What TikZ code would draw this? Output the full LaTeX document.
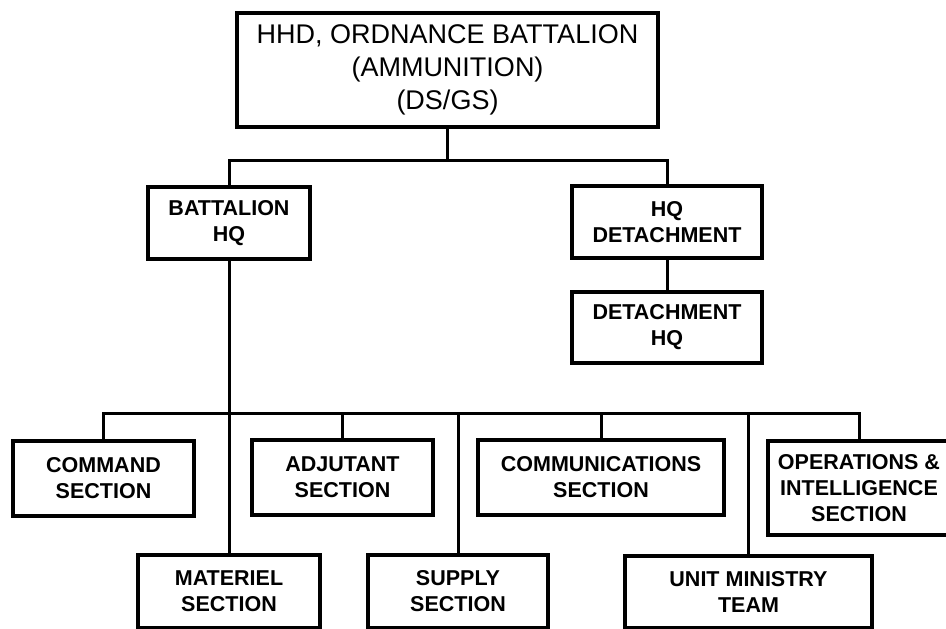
\documentclass[tikz,border=0pt]{standalone}
\usepackage{fontspec}
\setmainfont{Liberation Sans}
\usetikzlibrary{positioning,fit,calc}

\begin{document}
\begin{tikzpicture}[x=1pt,y=-1pt,line/.style = {line width=3pt}]
					\tikzset{unit/.style={draw=black, line width=3.5pt, inner sep=0pt, align=center, font=\bfseries\fontsize{21.5}{26}\selectfont}}
					\useasboundingbox (0,0) rectangle (946,629);

					% Headquarters

					\node[unit, minimum width=421pt, minimum height=114pt, font=\fontsize{27}{33}\selectfont] (hhd) at (447.5,70) {HHD, ORDNANCE BATTALION\\(AMMUNITION)\\(DS/GS)};
					\node[unit, minimum width=162pt, minimum height=72pt] (bhq) at (229,223) {BATTALION\\HQ};
					\node[unit, minimum width=190pt, minimum height=72pt] (hqdet) at (667,222) {HQ\\DETACHMENT};
					\node[unit, minimum width=190pt, minimum height=71pt] (dethq) at (667,327.5) {DETACHMENT\\HQ};

					% Sections

					\node[unit, minimum width=181pt, minimum height=75pt] (command) at (103.5,478.5) {COMMAND\\SECTION};
					\node[unit, minimum width=181pt, minimum height=75pt] (adjutant) at (342.5,477.5) {ADJUTANT\\SECTION};
					\node[unit, minimum width=246pt, minimum height=75pt] (comms) at (601,477.5) {COMMUNICATIONS\\SECTION};
					\node[unit, minimum width=182pt, minimum height=94pt] (ops) at (859,488) {OPERATIONS \&\\INTELLIGENCE\\SECTION};
					\node[unit, minimum width=182pt, minimum height=73pt] (materiel) at (229,591.5) {MATERIEL\\SECTION};
					\node[unit, minimum width=180pt, minimum height=73pt] (supply) at (458,591.5) {SUPPLY\\SECTION};
					\node[unit, minimum width=247pt, minimum height=72pt] (ministry) at (748.5,592) {UNIT MINISTRY\\TEAM};

					% Lines

					\coordinate (split) at (447.5,160);
					\coordinate (bus) at (229,413);
					\draw[line] (hhd.south) -- (split);
					\draw[line] (bhq.north) |- (split) -| (hqdet.north);
					\draw[line] (hqdet.south) -- (dethq.north);
					\draw[line] (bhq.south) -- (materiel.north);
					\draw[line] (command.north) |- (bus) -| (ops.north);
					\foreach \sec in {adjutant,supply,comms,ministry}
						\draw[line] (\sec.north) -- (\sec.north |- bus);

				\end{tikzpicture}
\end{document}
